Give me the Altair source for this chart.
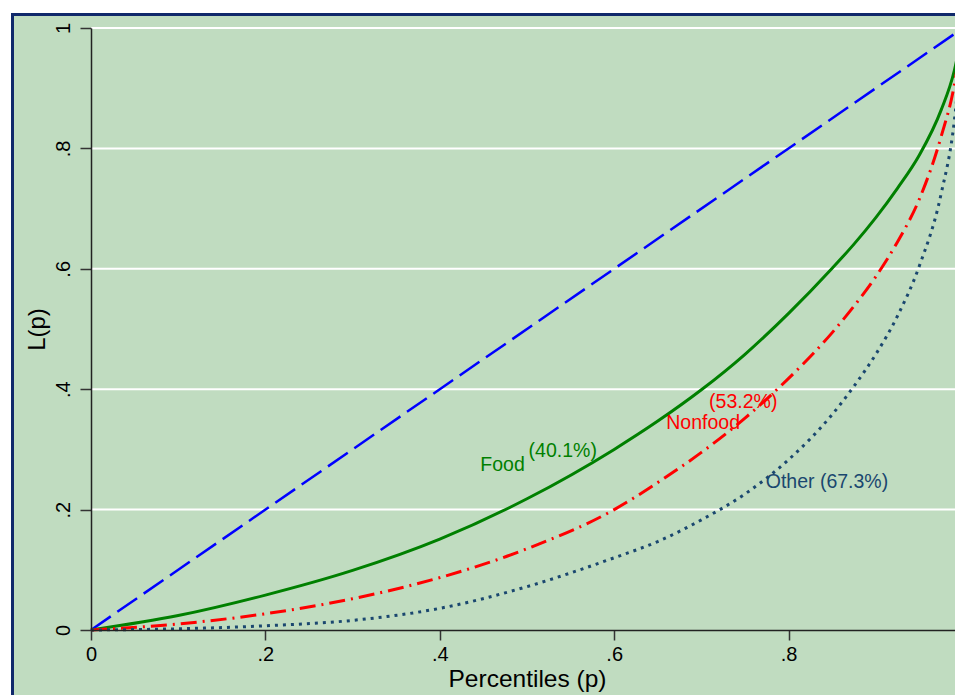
import altair as alt
import pandas as pd

# ---- data ----
p_grid = [0, 0.1, 0.2, 0.3, 0.4, 0.5, 0.6, 0.65, 0.7, 0.75, 0.8, 0.85, 0.875, 0.9, 0.925, 0.95, 0.975, 0.99, 1.0]
food = [0, 0.024, 0.058, 0.099, 0.151, 0.218, 0.300, 0.347, 0.399, 0.458, 0.526, 0.601, 0.641, 0.685, 0.734, 0.789, 0.864, 0.929, 1.0]
nonfood = [0, 0.010, 0.027, 0.052, 0.087, 0.135, 0.200, 0.245, 0.295, 0.352, 0.418, 0.494, 0.538, 0.587, 0.645, 0.716, 0.820, 0.905, 1.0]
other = [0, 0.002, 0.007, 0.016, 0.036, 0.072, 0.120, 0.147, 0.183, 0.226, 0.283, 0.358, 0.405, 0.458, 0.522, 0.605, 0.725, 0.845, 1.0]
equality_p = [0, 1]
equality_L = [0, 1]
tick_values = [0, 0.2, 0.4, 0.6, 0.8, 1.0]
grid_values = [0.2, 0.4, 0.6, 0.8, 1.0]

label_text = ["Food", "(40.1%)", "Nonfood", "(53.2%)", "Other (67.3%)"]
label_p = [0.472, 0.541, 0.702, 0.748, 0.844]
label_L = [0.274, 0.297, 0.344, 0.379, 0.246]
label_series = ["Food", "Food", "Nonfood", "Nonfood", "Other"]

# ---- styles ----
FONT = "Liberation Sans"
BG = "#C0DCC0"
BORDER = "#10296B"
colors = {"Food": "#008000", "Nonfood": "#FF0000", "Other": "#1A476F"}

# the reference plot runs past the right edge of the window
xscale = alt.Scale(domain=[0, 1], range=[0, 872], nice=False, zero=False)
yscale = alt.Scale(domain=[0, 1], nice=False, zero=False)

label_expr = "datum.value == 0 ? '0' : datum.value == 1 ? '1' : '.' + round(datum.value * 10)"

xaxis = alt.Axis(values=tick_values, grid=False, labelExpr=label_expr, labelFlush=False,
                 labelOverlap=False, labelFont=FONT, labelFontSize=20, labelColor="black",
                 labelPadding=4, tickSize=10, tickColor="#333333", tickWidth=1.5,
                 domainColor="#222222", domainWidth=1.5, title="Percentiles (p)",
                 titleFont=FONT, titleFontSize=24.5, titleFontWeight="normal",
                 titleColor="black", titleX=436, titleY=56, titleAlign="center",
                 titleBaseline="alphabetic", zindex=1)
yaxis = alt.Axis(values=tick_values, grid=False, labelExpr=label_expr, labelFlush=False,
                 labelOverlap=False, labelAngle=270, labelAlign="center",
                 labelBaseline="bottom", labelFont=FONT, labelFontSize=20,
                 labelColor="black", labelPadding=7, tickSize=11, tickColor="#333333",
                 tickWidth=1.5, domainColor="#222222", domainWidth=1.5, title="L(p)",
                 titleFont=FONT, titleFontSize=24, titleFontWeight="normal",
                 titleColor="black", titlePadding=4, zindex=1)

bg = alt.Chart(pd.DataFrame({"a": [0]})).mark_rect(
    fill=BG, stroke=BORDER, strokeWidth=3, clip=False
).encode(x=alt.value(-78.5), x2=alt.value(960), y=alt.value(-13.5), y2=alt.value(720))

grid = alt.Chart(pd.DataFrame({"v": grid_values})).mark_rule(
    color="white", strokeWidth=2
).encode(y=alt.Y("v:Q", scale=yscale, axis=yaxis))

eq = alt.Chart(pd.DataFrame({"p": equality_p, "L": equality_L})).mark_line(
    color="#0000FF", strokeWidth=2.5, strokeDash=[24, 8]
).encode(x=alt.X("p:Q", scale=xscale, axis=xaxis), y=alt.Y("L:Q", scale=yscale, axis=yaxis))

def curve(values, name, dash, width):
    kw = dict(color=colors[name], strokeWidth=width, interpolate="monotone")
    if dash:
        kw["strokeDash"] = dash
    return alt.Chart(pd.DataFrame({"p": p_grid, "L": values})).mark_line(**kw).encode(
        x=alt.X("p:Q", scale=xscale, axis=xaxis), y=alt.Y("L:Q", scale=yscale, axis=yaxis))

food_line = curve(food, "Food", None, 3)
nonfood_line = curve(nonfood, "Nonfood", [16, 6, 2, 6], 3)
other_line = curve(other, "Other", [3, 5], 3)

labels = alt.Chart(pd.DataFrame({"t": label_text, "p": label_p, "L": label_L, "s": label_series})).mark_text(
    font=FONT, fontSize=19.5, align="center", baseline="middle"
).encode(
    x=alt.X("p:Q", scale=xscale, axis=xaxis),
    y=alt.Y("L:Q", scale=yscale, axis=yaxis),
    text="t:N",
    color=alt.Color("s:N", scale=alt.Scale(domain=list(colors.keys()), range=list(colors.values())), legend=None),
)

chart = alt.layer(bg, grid, eq, food_line, nonfood_line, other_line, labels).properties(
    width=864, height=602,
    autosize=alt.AutoSizeParams(type="none"),
    padding={"left": 83, "top": 20, "right": 0, "bottom": 67},
    background="white",
).configure_view(stroke=None)

chart.save("out.html", embed_options={"renderer": "svg", "actions": False})
